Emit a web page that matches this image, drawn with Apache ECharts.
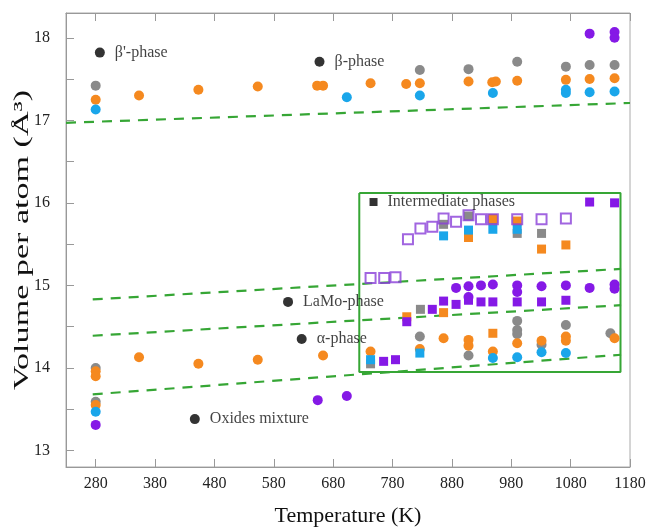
<!DOCTYPE html>
<html>
<head>
<meta charset="utf-8">
<script src="https://cdn.jsdelivr.net/npm/echarts@6/dist/echarts.min.js"></script>
<style>html,body{margin:0;padding:0;background:#fff}#c{width:646px;height:527px}</style>
</head>
<body>
<div id="c"></div>
<script>
// ---- data ----
var xTicks = [280, 380, 480, 580, 680, 780, 880, 980, 1080, 1180];
var yLabels = [13, 14, 15, 16, 17, 18];
var yTicks = [13, 13.5, 14, 14.5, 15, 15.5, 16, 16.5, 17, 17.5, 18];

var grayCircles = [[280,17.42],[826,17.61],[908,17.62],[990,17.71],[1072,17.65],[1112,17.67],[1154,17.67],
  [280,14.00],[280,13.59],[826,14.38],[908,14.15],[990,14.57],[990,14.46],[990,14.41],[1031,14.28],[1072,14.52],[1147,14.42]];
var graySquares = [[743,14.05],[827,14.71],[866,15.74],[908,15.84],[949,15.79],[990,15.63],[1031,15.63]];
var orangeCircles = [[280,17.25],[353,17.30],[453,17.37],[553,17.41],[653,17.42],[663,17.42],[743,17.45],[803,17.44],
  [826,17.45],[908,17.47],[948,17.46],[954,17.47],[990,17.48],[1072,17.49],[1112,17.50],[1154,17.51],
  [280,13.96],[280,13.90],[353,14.13],[453,14.05],[553,14.10],[663,14.15],[280,13.55],
  [743,14.20],[826,14.23],[866,14.36],[908,14.34],[908,14.27],[949,14.20],[990,14.30],[1031,14.33],[1072,14.38],[1072,14.33],[1154,14.36]];
var orangeSquares = [[804,14.62],[866,14.67],[949,14.42],[908,15.58],[949,15.81],[990,15.78],[1031,15.44],[1072,15.49]];
var blueCircles = [[280,17.13],[703,17.28],[826,17.30],[949,17.33],[1072,17.37],[1072,17.33],[1112,17.34],[1154,17.35],
  [280,13.47],[949,14.12],[990,14.13],[1031,14.19],[1072,14.18]];
var blueSquares = [[743,14.10],[826,14.18],[866,15.60],[908,15.67],[949,15.68],[990,15.68]];
var purpleCircles = [[1112,18.05],[1154,18.07],[1154,18.00],[280,13.31],[654,13.61],[703,13.66],
  [887,14.97],[908,14.99],[929,15.00],[949,15.01],[990,15.00],[990,14.92],[1031,14.99],[1072,15.00],[1112,14.97],[1154,15.01],[1154,14.96],[908,14.86]];
var purpleSquares = [[765,14.08],[785,14.10],[804,14.56],[847,14.71],[866,14.81],[887,14.77],[908,14.82],[929,14.80],
  [949,14.80],[990,14.80],[1031,14.80],[1072,14.82],[1112,16.01],[1154,16.00]];
var hollowSquares = [[743,15.09],[766,15.09],[785,15.10],[806,15.56],[827,15.69],[847,15.71],[866,15.81],[887,15.77],
  [908,15.85],[929,15.80],[949,15.80],[990,15.80],[1031,15.80],[1072,15.81]];

var phaseLabelsCircle = [[287,17.82,"β'-phase"],[657,17.71,"β-phase"],[604,14.80,"LaMo-phase"],[627,14.35,"α-phase"],[447,13.38,"Oxides mixture"]];
var phaseLabelsSquare = [[748,16.01,"Intermediate phases"]];

var boundaryLines = [
  [[230,16.97],[1180,17.21]],
  [[275,14.83],[1165,15.20]],
  [[275,14.39],[1165,14.76]],
  [[275,13.68],[1165,14.16]]
];
var boxCorners = [[724,16.12],[1164,16.12],[1164,13.95],[724,13.95],[724,16.12]];

// ---- chart ----
var SERIF = 'Liberation Serif';
var GRAY = '#8a8a8a', ORANGE = '#f5891f', BLUE = '#1aa6ea', PURPLE = '#8519e6', GREEN = '#36a635';
var chart = echarts.init(document.getElementById('c'), null, {renderer: 'canvas'});

function scatter(data, color, symbol, size) {
  return {type: 'scatter', data: data, symbol: symbol, symbolSize: size,
    itemStyle: {color: color, opacity: 1}, z: 3, animation: false};
}
var series = [];
boundaryLines.forEach(function (d) {
  series.push({type: 'line', data: d, symbol: 'none', lineStyle: {color: GREEN, width: 2.2, type: [10, 8]}, z: 2, animation: false});
});
series.push({type: 'line', data: boxCorners, symbol: 'none', lineStyle: {color: GREEN, width: 2}, z: 2, animation: false});
series.push(scatter(grayCircles, GRAY, 'circle', 10));
series.push(scatter(orangeCircles, ORANGE, 'circle', 10));
series.push(scatter(blueCircles, BLUE, 'circle', 10));
series.push(scatter(purpleCircles, PURPLE, 'circle', 10));
series.push(scatter(graySquares, GRAY, 'rect', 9));
series.push(scatter(orangeSquares, ORANGE, 'rect', 9));
series.push(scatter(blueSquares, BLUE, 'rect', 9));
series.push(scatter(purpleSquares, PURPLE, 'rect', 9));
series.push({type: 'scatter', data: hollowSquares, symbol: 'rect', symbolSize: 10,
  itemStyle: {color: 'rgba(255,255,255,0)', borderColor: '#8a3ed8', borderWidth: 2}, z: 4, animation: false});
function labelSeries(data, symbol, size) {
  return {type: 'scatter', data: data.map(function (d) { return {value: [d[0], d[1]], name: d[2]}; }),
    symbol: symbol, symbolSize: size, itemStyle: {color: '#000'}, z: 5, animation: false,
    label: {show: true, position: 'right', distance: 10, formatter: '{b}', fontFamily: SERIF, fontSize: 16, color: '#111'}};
}
series.push(labelSeries(phaseLabelsCircle, 'circle', 10));
series.push(labelSeries(phaseLabelsSquare, 'rect', 8));

var tickStyle = {color: '#999', width: 1};
var plain = function (v) { return String(v); };
chart.setOption({
  animation: false,
  grid: {left: 66, right: 16, top: 13, bottom: 60, containLabel: false, outerBoundsMode: 'none',
    show: true, borderColor: '#aaa', borderWidth: 1},
  xAxis: [{
    type: 'value', min: 230, max: 1180, position: 'bottom',
    axisLine: {show: true, lineStyle: {color: '#999'}},
    axisTick: {show: true, inside: true, length: 8, customValues: xTicks, lineStyle: tickStyle},
    axisLabel: {customValues: xTicks, formatter: plain, fontFamily: SERIF, fontSize: 16, color: '#222', margin: 9},
    splitLine: {show: false},
    name: 'Temperature (K)', nameLocation: 'middle', nameGap: 38,
    nameTextStyle: {fontFamily: SERIF, fontSize: 22, color: '#111'}
  }, {
    type: 'value', min: 230, max: 1180, position: 'top',
    axisLine: {show: true, lineStyle: {color: '#999'}},
    axisTick: {show: true, inside: true, length: 8, customValues: xTicks, lineStyle: tickStyle},
    axisLabel: {show: false}, splitLine: {show: false}
  }],
  yAxis: [{
    type: 'value', min: 12.8, max: 18.3,
    axisLine: {show: true, lineStyle: {color: '#999'}},
    axisTick: {show: true, inside: true, length: 8, customValues: yTicks, lineStyle: tickStyle},
    axisLabel: {customValues: yLabels, formatter: plain, fontFamily: SERIF, fontSize: 16, color: '#222', margin: 16},
    splitLine: {show: false}
  }],
  graphic: [{
    type: 'text', x: 22, y: 240, rotation: Math.PI / 2, scaleX: 1.55, scaleY: 1,
    style: {text: 'Volume per atom (Å³)', fontFamily: SERIF, fontSize: 22, fill: '#111', align: 'center', verticalAlign: 'middle'}
  }],
  series: series
});
</script>
</body>
</html>
